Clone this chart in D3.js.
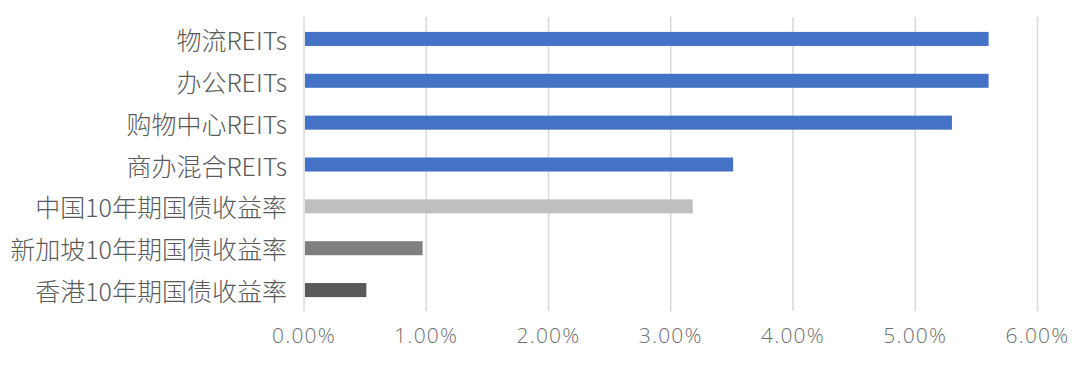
<!DOCTYPE html>
<html><head><meta charset="utf-8">
<script src="https://cdn.jsdelivr.net/npm/d3@7"></script>
<style>
html,body{margin:0;padding:0;background:#fff;}
svg{display:block;}
</style></head>
<body>
<svg id="chart" width="1080" height="368"></svg>
<script>
const categories = ["物流REITs","办公REITs","购物中心REITs","商办混合REITs","中国10年期国债收益率","新加坡10年期国债收益率","香港10年期国债收益率"];
const values = [5.60, 5.60, 5.30, 3.51, 3.18, 0.97, 0.51];
const barColors = ["#4472C4","#4472C4","#4472C4","#4472C4","#BFBFBF","#7F7F7F","#595959"];
const tickValues = [0,1,2,3,4,5,6];
const tickLabels = ["0.00%","1.00%","2.00%","3.00%","4.00%","5.00%","6.00%"];

(function(){
const svg = d3.select("#chart");
const pLeft = 304, pRight = 1037.5, pTop = 18, pBottom = 311;
const x = d3.scaleLinear().domain([0,6]).range([pLeft,pRight]);
const y = d3.scaleBand().domain(categories).range([pTop,pBottom]).paddingInner(0.665).paddingOuter(0.3325);

// gridlines
svg.append("g").selectAll("line").data(tickValues).join("line")
  .attr("x1", d=>x(d)).attr("x2", d=>x(d))
  .attr("y1", pTop-1).attr("y2", pBottom)
  .attr("stroke", "#d9d9d9").attr("stroke-width", 1.5);

// bars
svg.append("g").selectAll("rect").data(values).join("rect")
  .attr("x", x(0)+1)
  .attr("y", (d,i)=>y(categories[i]))
  .attr("width", d=>x(d)-x(0)-1)
  .attr("height", y.bandwidth())
  .attr("fill", (d,i)=>barColors[i]);

// y labels
svg.append("g").selectAll("text").data(categories).join("text")
  .attr("x", 287)
  .attr("y", d=>y(d)+y.bandwidth()/2)
  .attr("text-anchor","end")
  .attr("dominant-baseline","central")
  .attr("font-family","'Noto Sans CJK SC','Noto Sans',sans-serif")
  .attr("font-size",25)
  .attr("font-weight",300)
  .attr("fill","#5a5a5a")
  .text(d=>d);

// x tick labels
svg.append("g").selectAll("text").data(tickValues).join("text")
  .attr("x", d=>x(d))
  .attr("y", 335)
  .attr("text-anchor","middle")
  .attr("dominant-baseline","central")
  .attr("font-family","'Open Sans','Noto Sans',sans-serif")
  .attr("font-size",21)
  .attr("font-weight",300)
  .attr("letter-spacing","1.2px")
  .attr("fill","#6e6e6e")
  .text((d,i)=>tickLabels[i]);
})();
</script>
</body></html>
